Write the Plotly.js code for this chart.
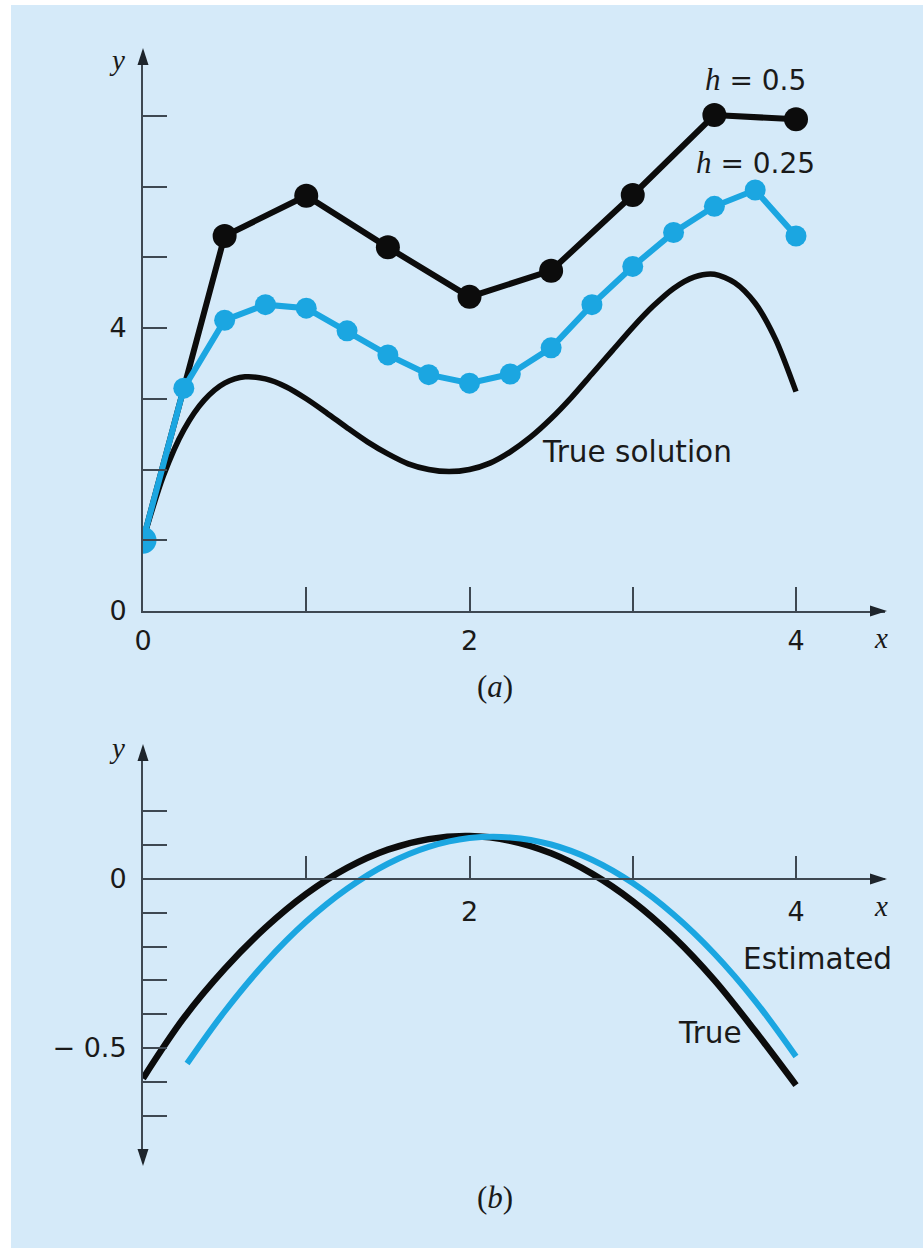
<!DOCTYPE html>
<html>
<head>
<meta charset="utf-8">
<script src="https://cdn.plot.ly/plotly-3.0.1.min.js"></script>
<style>
  html, body { margin: 0; padding: 0; background: #ffffff; }
  #chart { width: 923px; height: 1248px; }
</style>
</head>
<body>
<div id="chart"></div>
<script>
// ---------- data ----------
// (a) true solution
const xTrueA = [0, 0.125, 0.25, 0.375, 0.5, 0.625, 0.75, 0.875, 1, 1.125, 1.25, 1.375, 1.5, 1.625, 1.75, 1.875,
                2, 2.125, 2.25, 2.375, 2.5, 2.625, 2.75, 2.875, 3, 3.125, 3.25, 3.375, 3.5, 3.625, 3.75, 3.875, 4];
const yTrueA = [1.0, 1.91, 2.56, 2.98, 3.22, 3.31, 3.28, 3.17, 3.0, 2.80, 2.59, 2.39, 2.22, 2.08, 2.0, 1.97,
                2.0, 2.09, 2.25, 2.46, 2.72, 3.02, 3.35, 3.68, 4.01, 4.31, 4.56, 4.72, 4.76, 4.64, 4.35, 3.84, 3.1];
// (a) Euler, h = 0.5
const xH05 = [0, 0.5, 1, 1.5, 2, 2.5, 3, 3.5, 4];
const yH05 = [1.0, 5.30, 5.87, 5.14, 4.44, 4.81, 5.88, 7.01, 6.95];
// (a) Euler, h = 0.25
const xH025 = [0, 0.25, 0.5, 0.75, 1, 1.25, 1.5, 1.75, 2, 2.25, 2.5, 2.75, 3, 3.25, 3.5, 3.75, 4];
const yH025 = [1.0, 3.15, 4.11, 4.33, 4.28, 3.96, 3.62, 3.34, 3.22, 3.35, 3.72, 4.33, 4.87, 5.35, 5.72, 5.95, 5.30];
// (a) initial condition
const xInit = [0];
const yInit = [1.0];
// (b) true
const xTrueB = [0, 0.25, 0.5, 0.75, 1, 1.25, 1.5, 1.75, 2, 2.25, 2.5, 2.75, 3, 3.25, 3.5, 3.75, 4];
const yTrueB = [-0.59, -0.411, -0.266, -0.144, -0.044, 0.033, 0.087, 0.118, 0.127, 0.113, 0.076, 0.016, -0.066, -0.171, -0.299, -0.450, -0.61];
// (b) estimated
const xEstB = [0.27, 0.5, 0.75, 1, 1.25, 1.5, 1.75, 2, 2.25, 2.5, 2.75, 3, 3.25, 3.5, 3.75, 4];
const yEstB = [-0.546, -0.392, -0.247, -0.126, -0.029, 0.045, 0.095, 0.121, 0.123, 0.102, 0.057, -0.012, -0.105, -0.221, -0.361, -0.525];
// ticks
const xTicksA = [0, 1, 2, 3, 4];
const xTickTextA = ['0', '', '2', '', '4'];
const yTicksA = [0, 1, 2, 3, 4, 5, 6, 7];
const yTickTextA = ['0', '', '', '', '4', '', '', ''];
const xTicksB = [1, 2, 3, 4];
const xTickTextB = ['', '2', '', '4'];
const yTicksB = [-0.7, -0.6, -0.5, -0.4, -0.3, -0.2, -0.1, 0, 0.1, 0.2];
const yTickTextB = ['', '', '\u2212 0.5', '', '', '', '', '0', '', ''];

// ---------- styling ----------
const W = 923, H = 1248;
const fx = p => p / W;
const fy = p => 1 - p / H;
const BLACK = '#0c0c0c';
const BLUE = '#1ba6e1';
const AXIS = '#3e4852';
const TEXT = '#1a1a1a';
const SANS = 'DejaVu Sans';
const SERIF = 'Liberation Serif';

// pixel geometry
const X0 = 143, XEND = 885, PX_PER_X = 163.25;
const A_Y0 = 611, A_TOP = 55, A_PX_PER_Y = 70.75;
const B_Y0 = 879, B_TOP = 750, B_BOT = 1160, B_PX_PER_Y = 338;

const xRange = [0, (XEND - X0) / PX_PER_X];
const yRangeA = [0, (A_Y0 - A_TOP) / A_PX_PER_Y];
const yRangeB = [-(B_BOT - B_Y0) / B_PX_PER_Y, (B_Y0 - B_TOP) / B_PX_PER_Y];

const traces = [
  { x: xTrueA, y: yTrueA, xaxis: 'x', yaxis: 'y', mode: 'lines',
    line: { color: BLACK, width: 5.5, shape: 'spline', smoothing: 0.8 } },
  { x: xH05, y: yH05, xaxis: 'x', yaxis: 'y', mode: 'lines+markers',
    line: { color: BLACK, width: 6 }, marker: { color: BLACK, size: 24 } },
  { x: xH025, y: yH025, xaxis: 'x', yaxis: 'y', mode: 'lines+markers',
    line: { color: BLUE, width: 6 }, marker: { color: BLUE, size: 21 } },
  { x: xInit, y: yInit, xaxis: 'x', yaxis: 'y', mode: 'markers',
    marker: { color: BLUE, size: 27 } },
  { x: xTrueB, y: yTrueB, xaxis: 'x2', yaxis: 'y2', mode: 'lines',
    line: { color: BLACK, width: 6.5, shape: 'spline', smoothing: 1 } },
  { x: xEstB, y: yEstB, xaxis: 'x2', yaxis: 'y2', mode: 'lines',
    line: { color: BLUE, width: 6, shape: 'spline', smoothing: 1 } }
];

const axisCommon = {
  showgrid: false, zeroline: false, showline: true,
  linecolor: AXIS, linewidth: 2,
  ticks: 'inside', ticklen: 24, tickwidth: 2, tickcolor: AXIS,
  tickfont: { family: SANS, size: 27, color: TEXT },
  tickmode: 'array', fixedrange: true
};

function arrow(tipX, tipY, dir) {
  const L = 17, Wd = 5.5;
  let pts;
  if (dir === 'right') pts = [[tipX, tipY], [tipX - L, tipY - Wd], [tipX - L, tipY + Wd]];
  if (dir === 'up') pts = [[tipX, tipY], [tipX - Wd, tipY + L], [tipX + Wd, tipY + L]];
  if (dir === 'down') pts = [[tipX, tipY], [tipX - Wd, tipY - L], [tipX + Wd, tipY - L]];
  const d = 'M ' + pts.map(p => fx(p[0]) + ',' + fy(p[1])).join(' L ') + ' Z';
  return { type: 'path', xref: 'paper', yref: 'paper', path: d,
           fillcolor: '#1e252c', line: { width: 0 }, layer: 'above' };
}

function label(text, px, py, opts) {
  return Object.assign({
    text: text, x: fx(px), y: fy(py), xref: 'paper', yref: 'paper',
    showarrow: false, xanchor: 'center', yanchor: 'middle',
    font: { family: SANS, size: 28, color: TEXT }
  }, opts || {});
}
const serif = (size) => ({ family: SERIF, size: size, color: TEXT });
const hItal = '<span style="font-family:Liberation Serif;font-style:italic;font-size:31px">h</span>';

const layout = {
  width: W, height: H,
  margin: { l: 0, r: 0, t: 0, b: 0 },
  paper_bgcolor: '#ffffff',
  plot_bgcolor: 'rgba(0,0,0,0)',
  showlegend: false,
  xaxis: Object.assign({}, axisCommon, {
    domain: [fx(X0), fx(XEND)], range: xRange, anchor: 'y',
    tickvals: xTicksA, ticktext: xTickTextA, ticklabelstandoff: 5
  }),
  yaxis: Object.assign({}, axisCommon, {
    domain: [fy(A_Y0), fy(A_TOP)], range: yRangeA, anchor: 'x',
    tickvals: yTicksA, ticktext: yTickTextA, ticklabelstandoff: 9
  }),
  xaxis2: Object.assign({}, axisCommon, {
    domain: [fx(X0), fx(XEND)], range: xRange, anchor: 'free', position: fy(B_Y0),
    tickvals: xTicksB, ticktext: xTickTextB, ticklen: 22, ticklabelstandoff: 9
  }),
  yaxis2: Object.assign({}, axisCommon, {
    domain: [fy(B_BOT), fy(B_TOP)], range: yRangeB, anchor: 'x2',
    tickvals: yTicksB, ticktext: yTickTextB, ticklabelstandoff: 9
  }),
  shapes: [
    { type: 'rect', xref: 'paper', yref: 'paper', x0: fx(11), x1: 1, y0: 0, y1: fy(5),
      fillcolor: '#d5eaf9', line: { width: 0 }, layer: 'below' },
    arrow(887, 611, 'right'),
    arrow(143, 48, 'up'),
    arrow(887, 879, 'right'),
    arrow(143, 744, 'up'),
    arrow(143, 1166, 'down')
  ],
  annotations: [
    label('<i>y</i>', 117, 60, { font: serif(29) }),
    label('<i>x</i>', 881, 638, { font: serif(29) }),
    label('<i>y</i>', 117, 748, { font: serif(29) }),
    label('<i>x</i>', 881, 906, { font: serif(29) }),
    label(hItal + ' = 0.5', 755, 79),
    label(hItal + ' = 0.25', 755, 163),
    label('True solution', 540, 452, { xanchor: 'left', font: { family: SANS, size: 29.5, color: TEXT } }),
    label('Estimated', 741, 959, { xanchor: 'left', font: { family: SANS, size: 29.5, color: TEXT } }),
    label('True', 676, 1033, { xanchor: 'left', font: { family: SANS, size: 29.5, color: TEXT } }),
    label('(<i>a</i>)', 495, 686, { font: serif(31) }),
    label('(<i>b</i>)', 495, 1197, { font: serif(31) })
  ]
};

Plotly.newPlot('chart', traces, layout, { staticPlot: true, displayModeBar: false });
</script>
</body>
</html>
